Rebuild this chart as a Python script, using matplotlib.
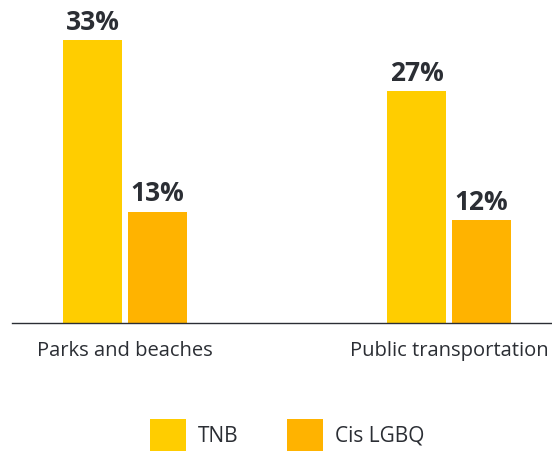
import matplotlib
matplotlib.use('Agg')
import matplotlib.pyplot as plt
from matplotlib.patches import Patch
import numpy as np

plt.rcParams.update({
    'font.family': ['Open Sans', 'DejaVu Sans'],
    'text.color': '#2b2e34',
})

categories = ['Parks and beaches', 'Public transportation']
series = ['TNB', 'Cis LGBQ']
tnb = [33, 27]
cis = [13, 12]
colors = ['#FFCD00', '#FFB300']

fig = plt.figure(figsize=(5.52, 4.51), dpi=100)
ax = fig.add_axes([12 / 552, 1 - 323 / 451, 540 / 552, 323 / 451])

x = np.arange(len(categories))
w = 0.182
off = 0.1003
b1 = ax.bar(x - off, tnb, w, color=colors[0], zorder=2)
b2 = ax.bar(x + off, cis, w, color=colors[1], zorder=2)

# percentage labels above each bar
for bars, vals in ((b1, tnb), (b2, cis)):
    for bar, v in zip(bars, vals):
        ax.annotate(f'{v}%', (bar.get_x() + bar.get_width() / 2, v),
                    xytext=(0, 7.5), textcoords='offset points',
                    ha='center', va='baseline', fontsize=19,
                    fontweight='bold', color='#2b2e34')

ax.set_xlim(-0.349, 1.318)
ax.set_ylim(0, 37.66)
ax.set_xticks(x)
ax.set_xticklabels(categories, fontsize=14.5, color='#2b2e34')
ax.tick_params(axis='x', length=0, pad=13)
ax.set_yticks([])
for s in ('top', 'right', 'left'):
    ax.spines[s].set_visible(False)
ax.spines['bottom'].set_color('#2b2e34')
ax.spines['bottom'].set_linewidth(1.0)

handles = [Patch(facecolor=c, edgecolor='none') for c in colors]
fig.legend(handles, series, loc='center', bbox_to_anchor=(287 / 552, 1 - 435 / 451),
           ncol=2, frameon=False, fontsize=15, handlelength=1.73,
           handleheight=2.03, handletextpad=0.58, columnspacing=2.3,
           borderpad=0)

fig.savefig('out.png', dpi=100)
